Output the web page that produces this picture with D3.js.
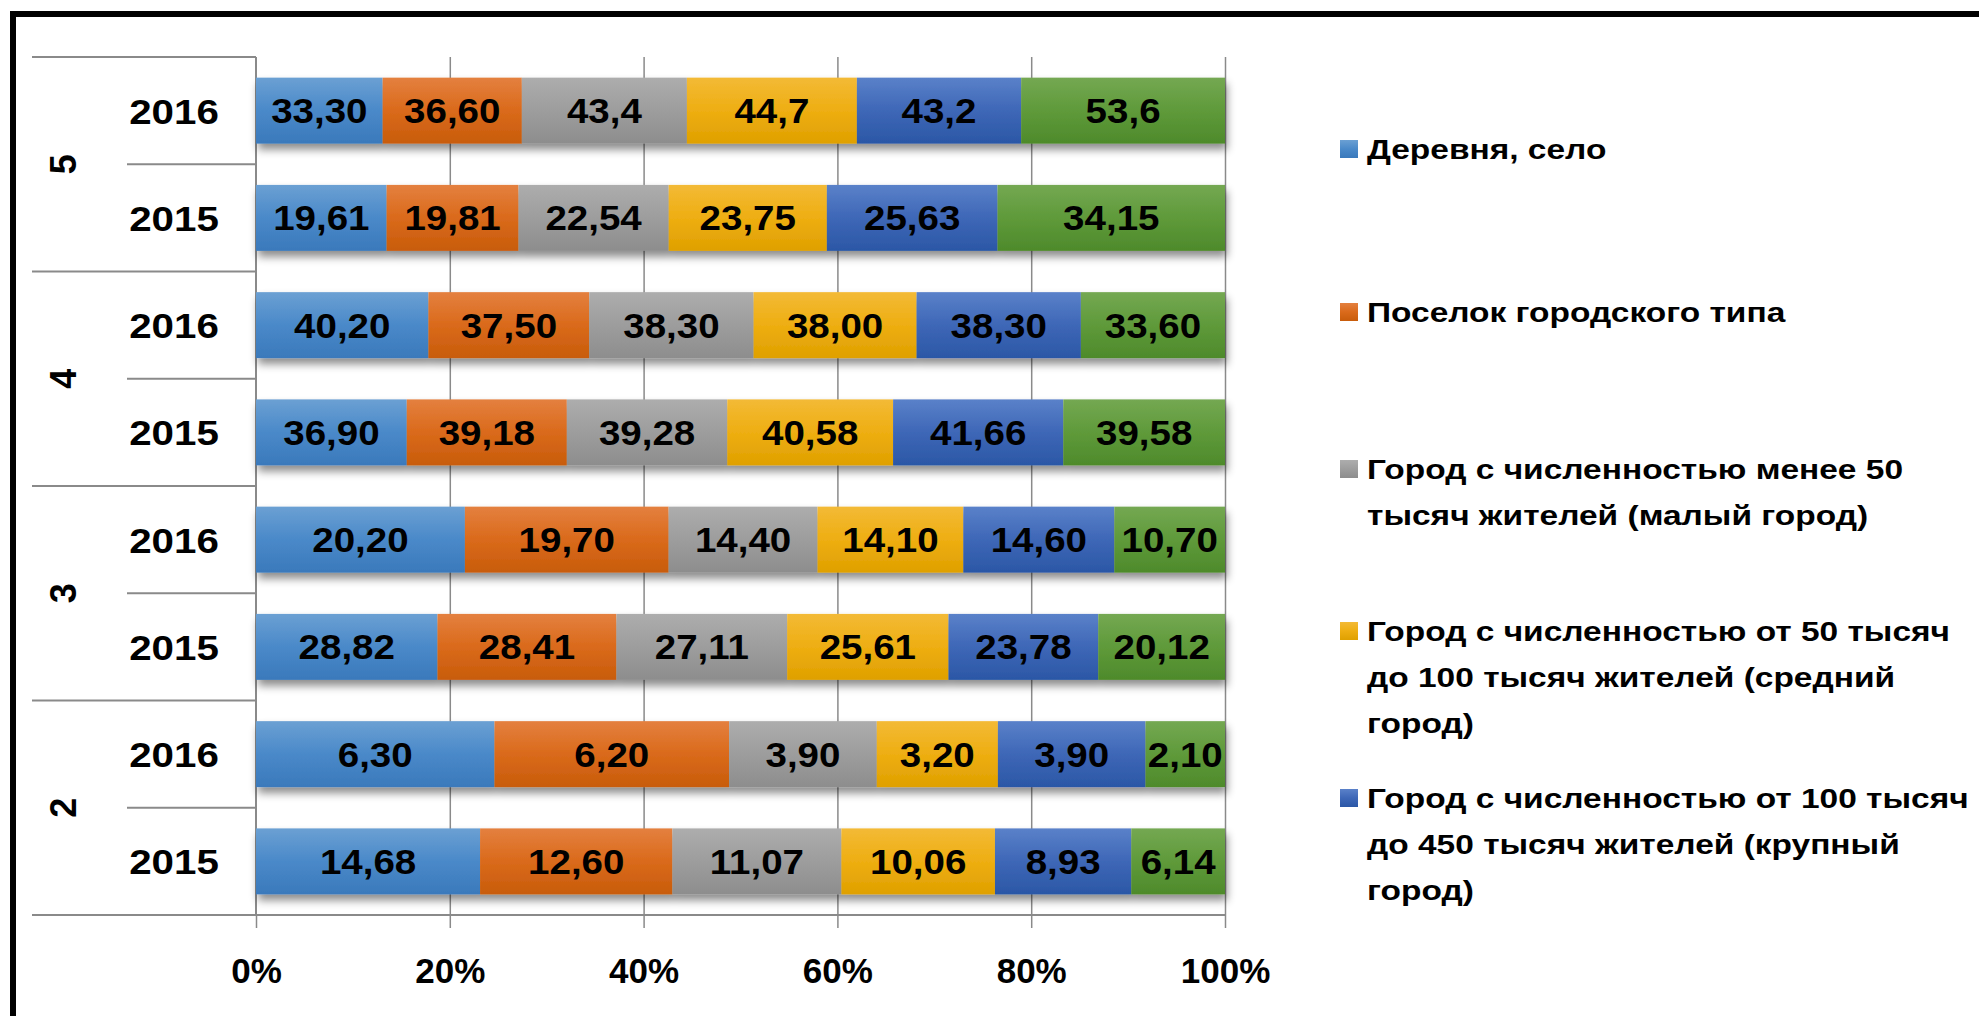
<!DOCTYPE html>
<html>
<head>
<meta charset="utf-8">
<script src="https://cdn.jsdelivr.net/npm/d3@7"></script>
<style>
  html, body { margin: 0; padding: 0; background: #fff; }
  svg { display: block; }
  text { font-family: "Liberation Sans", Arial, sans-serif; font-weight: bold; fill: #000; }
</style>
</head>
<body>
<svg id="chart" width="1979" height="1016"></svg>
<script>
// Categories, top to bottom as drawn
const groups = ["5", "4", "3", "2"];
const years = ["2016", "2015"];

// Values per bar, as printed on the data labels
const v5_2016 = ["33,30", "36,60", "43,4", "44,7", "43,2", "53,6"];
const v5_2015 = ["19,61", "19,81", "22,54", "23,75", "25,63", "34,15"];
const v4_2016 = ["40,20", "37,50", "38,30", "38,00", "38,30", "33,60"];
const v4_2015 = ["36,90", "39,18", "39,28", "40,58", "41,66", "39,58"];
const v3_2016 = ["20,20", "19,70", "14,40", "14,10", "14,60", "10,70"];
const v3_2015 = ["28,82", "28,41", "27,11", "25,61", "23,78", "20,12"];
const v2_2016 = ["6,30", "6,20", "3,90", "3,20", "3,90", "2,10"];
const v2_2015 = ["14,68", "12,60", "11,07", "10,06", "8,93", "6,14"];

// Legend entries (the sixth, green series is cut off in the picture)
const legendNames = [
  ["Деревня, село"],
  ["Поселок городского типа"],
  ["Город с численностью менее 50", "тысяч жителей (малый город)"],
  ["Город с численностью от 50 тысяч", "до 100 тысяч жителей (средний", "город)"],
  ["Город с численностью от 100 тысяч", "до 450 тысяч жителей (крупный", "город)"]
];

// gradient stops per series: top, middle, bottom
const seriesColors = [
  ["#6ba0d3", "#4a89c9", "#3a79bb"],
  ["#e4803f", "#da6a1b", "#c85c0b"],
  ["#adadad", "#9d9d9d", "#8d8d8d"],
  ["#f3ba36", "#eeae12", "#dfa000"],
  ["#5a81c9", "#3e67b7", "#2b57a6"],
  ["#74a852", "#5f9a3a", "#4e8a2b"]
];

const rows = [
  { group: "5", year: "2016", labels: v5_2016 },
  { group: "5", year: "2015", labels: v5_2015 },
  { group: "4", year: "2016", labels: v4_2016 },
  { group: "4", year: "2015", labels: v4_2015 },
  { group: "3", year: "2016", labels: v3_2016 },
  { group: "3", year: "2015", labels: v3_2015 },
  { group: "2", year: "2016", labels: v2_2016 },
  { group: "2", year: "2015", labels: v2_2015 }
];

const keys = d3.range(6);
const table = rows.map(r => {
  const o = { id: r.group + "-" + r.year, row: r };
  r.labels.forEach((s, i) => { o[i] = +s.replace(",", "."); });
  return o;
});
const stacked = d3.stack().keys(keys).offset(d3.stackOffsetExpand)(table);

const plotTop = 57, plotBottom = 915;
const x = d3.scaleLinear().domain([0, 1]).range([256, 1225]);
const y = d3.scaleBand()
  .domain(table.map(d => d.id))
  .range([plotTop, plotBottom])
  .paddingInner(0.385)
  .paddingOuter(0.1925);

const svg = d3.select("#chart");
const defs = svg.append("defs");

seriesColors.forEach((c, i) => {
  const g = defs.append("linearGradient")
    .attr("id", "grad" + i)
    .attr("x1", 0).attr("y1", 0).attr("x2", 0).attr("y2", 1);
  g.append("stop").attr("offset", "0%").attr("stop-color", c[0]);
  g.append("stop").attr("offset", "50%").attr("stop-color", c[1]);
  g.append("stop").attr("offset", "100%").attr("stop-color", c[2]);
});

const shadow = defs.append("filter").attr("id", "shadow")
  .attr("x", "-5%").attr("y", "-30%").attr("width", "110%").attr("height", "180%");
shadow.append("feDropShadow")
  .attr("dx", 2).attr("dy", 6).attr("stdDeviation", 4)
  .attr("flood-color", "#000").attr("flood-opacity", 0.45);

// frame
svg.append("rect")
  .attr("x", 13).attr("y", 14).attr("width", 2100).attr("height", 1100)
  .attr("fill", "none").attr("stroke", "#000").attr("stroke-width", 6);

// gridlines
const grid = svg.append("g")
  .attr("transform", `translate(0,${plotBottom})`)
  .call(d3.axisBottom(x).tickValues([0.2, 0.4, 0.6, 0.8, 1]).tickSize(-(plotBottom - plotTop)).tickFormat(""));
grid.select(".domain").remove();
grid.selectAll("line").attr("stroke", "#8a8a8a").attr("stroke-width", 1.5);

// category separators
const step = y.step();
const sep = svg.append("g").attr("stroke", "#8a8a8a").attr("stroke-width", 2);
d3.range(groups.length + 1).forEach(k => {
  const yy = plotTop + k * 2 * step;
  sep.append("line").attr("x1", 32).attr("x2", k === groups.length ? x(1) : x(0))
    .attr("y1", yy).attr("y2", yy);
});
d3.range(groups.length).forEach(k => {
  const yy = plotTop + (2 * k + 1) * step;
  sep.append("line").attr("x1", 127).attr("x2", x(0)).attr("y1", yy).attr("y2", yy);
});
sep.append("line").attr("x1", x(0)).attr("x2", x(0)).attr("y1", plotTop).attr("y2", plotBottom);

// bottom axis
const xAxis = svg.append("g")
  .attr("transform", `translate(0,${plotBottom})`)
  .call(d3.axisBottom(x).tickValues([0, 0.2, 0.4, 0.6, 0.8, 1]).tickSize(13).tickPadding(30).tickFormat(d3.format(".0%")));
xAxis.select(".domain").remove();
xAxis.selectAll("line").attr("stroke", "#8a8a8a").attr("stroke-width", 1.5);
xAxis.selectAll("text")
  .attr("fill", "#000")
  .style("font-family", "'Liberation Sans', Arial, sans-serif")
  .style("font-weight", "bold")
  .style("font-size", "35px");

// bars
const barLayer = svg.append("g");
const rowG = barLayer.selectAll("g.row")
  .data(table)
  .join("g")
  .attr("class", "row")
  .attr("filter", "url(#shadow)");

rowG.selectAll("rect")
  .data(d => stacked.map((s, i) => ({ seg: s.find(e => e.data.id === d.id), i })))
  .join("rect")
  .attr("x", d => x(d.seg[0]))
  .attr("width", d => x(d.seg[1]) - x(d.seg[0]))
  .attr("y", d => y(d.seg.data.id))
  .attr("height", y.bandwidth())
  .attr("fill", d => `url(#grad${d.i})`);

// data labels (slightly stretched, like the original wide bold face)
const labelLayer = svg.append("g");
stacked.forEach((s, i) => {
  labelLayer.selectAll(null)
    .data(s)
    .join("text")
    .attr("transform", d => `translate(${(x(d[0]) + x(d[1])) / 2},${y(d.data.id) + y.bandwidth() / 2}) scale(1.1,1)`)
    .attr("dy", "0.36em")
    .attr("text-anchor", "middle")
    .style("font-size", "35px")
    .text(d => d.data.row.labels[i]);
});

// year labels
svg.append("g").selectAll("text")
  .data(table)
  .join("text")
  .attr("transform", d => `translate(174,${y(d.id) + y.bandwidth() / 2}) scale(1.12,1)`)
  .attr("dy", "0.36em")
  .attr("text-anchor", "middle")
  .style("font-size", "36px")
  .text(d => d.row.year);

// group labels (rotated)
svg.append("g").selectAll("text")
  .data(groups)
  .join("text")
  .attr("transform", (g, k) => `translate(63,${plotTop + (2 * k + 1) * step}) rotate(-90)`)
  .attr("dy", "0.36em")
  .attr("text-anchor", "middle")
  .style("font-size", "36px")
  .text(g => g);

// legend
const legendY = [149, 312, 469, 631, 798];
const lineH = 46;
const legend = svg.append("g");
legendNames.forEach((lines, i) => {
  legend.append("rect")
    .attr("x", 1340).attr("y", legendY[i] - 9)
    .attr("width", 18).attr("height", 18)
    .attr("fill", `url(#grad${i})`);
  const t = legend.append("text")
    .attr("transform", `translate(1367,${legendY[i]}) scale(1.24,1)`)
    .style("font-size", "27px");
  lines.forEach((l, j) => {
    t.append("tspan")
      .attr("x", 0)
      .attr("y", j * lineH)
      .attr("dy", "0.36em")
      .text(l);
  });
});
</script>
</body>
</html>
